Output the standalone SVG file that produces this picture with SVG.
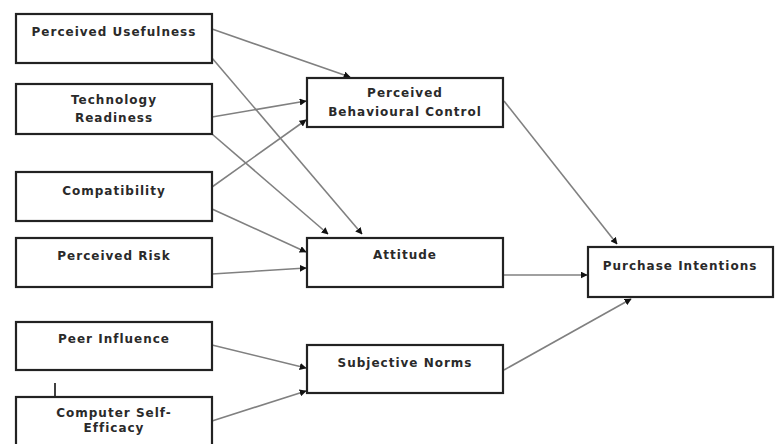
<svg xmlns="http://www.w3.org/2000/svg" width="776" height="444" viewBox="0 0 776 444">
<defs>
<marker id="ah" viewBox="0 0 10 10" refX="9" refY="5" markerWidth="7" markerHeight="7" markerUnits="userSpaceOnUse" orient="auto">
<path d="M0,0 L10,5 L0,10 z" fill="#111"/>
</marker>
<style>
.box{fill:#fff;stroke:#222;stroke-width:2.2}
.t{font-family:"DejaVu Sans",Verdana,sans-serif;font-weight:bold;font-size:12px;fill:#2a2a2a;text-anchor:middle;letter-spacing:1px}
.c{stroke:#808080;stroke-width:1.6;fill:none;marker-end:url(#ah)}
</style>
</defs>
<rect width="776" height="444" fill="#fff"/>
<g id="connectors">
<line class="c" x1="212" y1="29" x2="350" y2="77"/>
<line class="c" x1="212" y1="58" x2="362" y2="234"/>
<line class="c" x1="212" y1="117" x2="306" y2="101"/>
<line class="c" x1="212" y1="134" x2="328" y2="234"/>
<line class="c" x1="212" y1="187" x2="306" y2="120"/>
<line class="c" x1="212" y1="209" x2="306" y2="252"/>
<line class="c" x1="212" y1="274" x2="306" y2="268"/>
<line class="c" x1="212" y1="345" x2="306" y2="368"/>
<line class="c" x1="212" y1="421" x2="306" y2="391"/>
<line class="c" x1="504" y1="101" x2="617" y2="244"/>
<line class="c" x1="504" y1="275" x2="587" y2="275"/>
<line class="c" x1="504" y1="370" x2="631" y2="299"/>
<line x1="55" y1="383" x2="55" y2="397" stroke="#111" stroke-width="1.6"/>
</g>
<g id="perceived-usefulness">
<rect class="box" x="16" y="14" width="196" height="49"/>
<text class="t" x="114" y="36">Perceived Usefulness</text>
</g>
<g id="technology-readiness">
<rect class="box" x="16" y="84" width="196" height="50"/>
<text class="t" x="114" y="104">Technology</text>
<text class="t" x="114" y="122">Readiness</text>
</g>
<g id="compatibility">
<rect class="box" x="16" y="172" width="196" height="49"/>
<text class="t" x="114" y="195">Compatibility</text>
</g>
<g id="perceived-risk">
<rect class="box" x="16" y="238" width="196" height="49"/>
<text class="t" x="114" y="260">Perceived Risk</text>
</g>
<g id="peer-influence">
<rect class="box" x="16" y="322" width="196" height="48"/>
<text class="t" x="114" y="343">Peer Influence</text>
</g>
<g id="computer-self-efficacy">
<rect class="box" x="16" y="397" width="196" height="52"/>
<text class="t" x="114" y="417">Computer Self-</text>
<text class="t" x="114" y="432">Efficacy</text>
</g>
<g id="perceived-behavioural-control">
<rect class="box" x="307" y="78" width="196" height="49"/>
<text class="t" x="405" y="97">Perceived</text>
<text class="t" x="405" y="116">Behavioural Control</text>
</g>
<g id="attitude">
<rect class="box" x="307" y="238" width="196" height="49"/>
<text class="t" x="405" y="259">Attitude</text>
</g>
<g id="subjective-norms">
<rect class="box" x="307" y="345" width="196" height="48"/>
<text class="t" x="405" y="367">Subjective Norms</text>
</g>
<g id="purchase-intentions">
<rect class="box" x="588" y="247" width="185" height="50"/>
<text class="t" x="680" y="270">Purchase Intentions</text>
</g>
</svg>
